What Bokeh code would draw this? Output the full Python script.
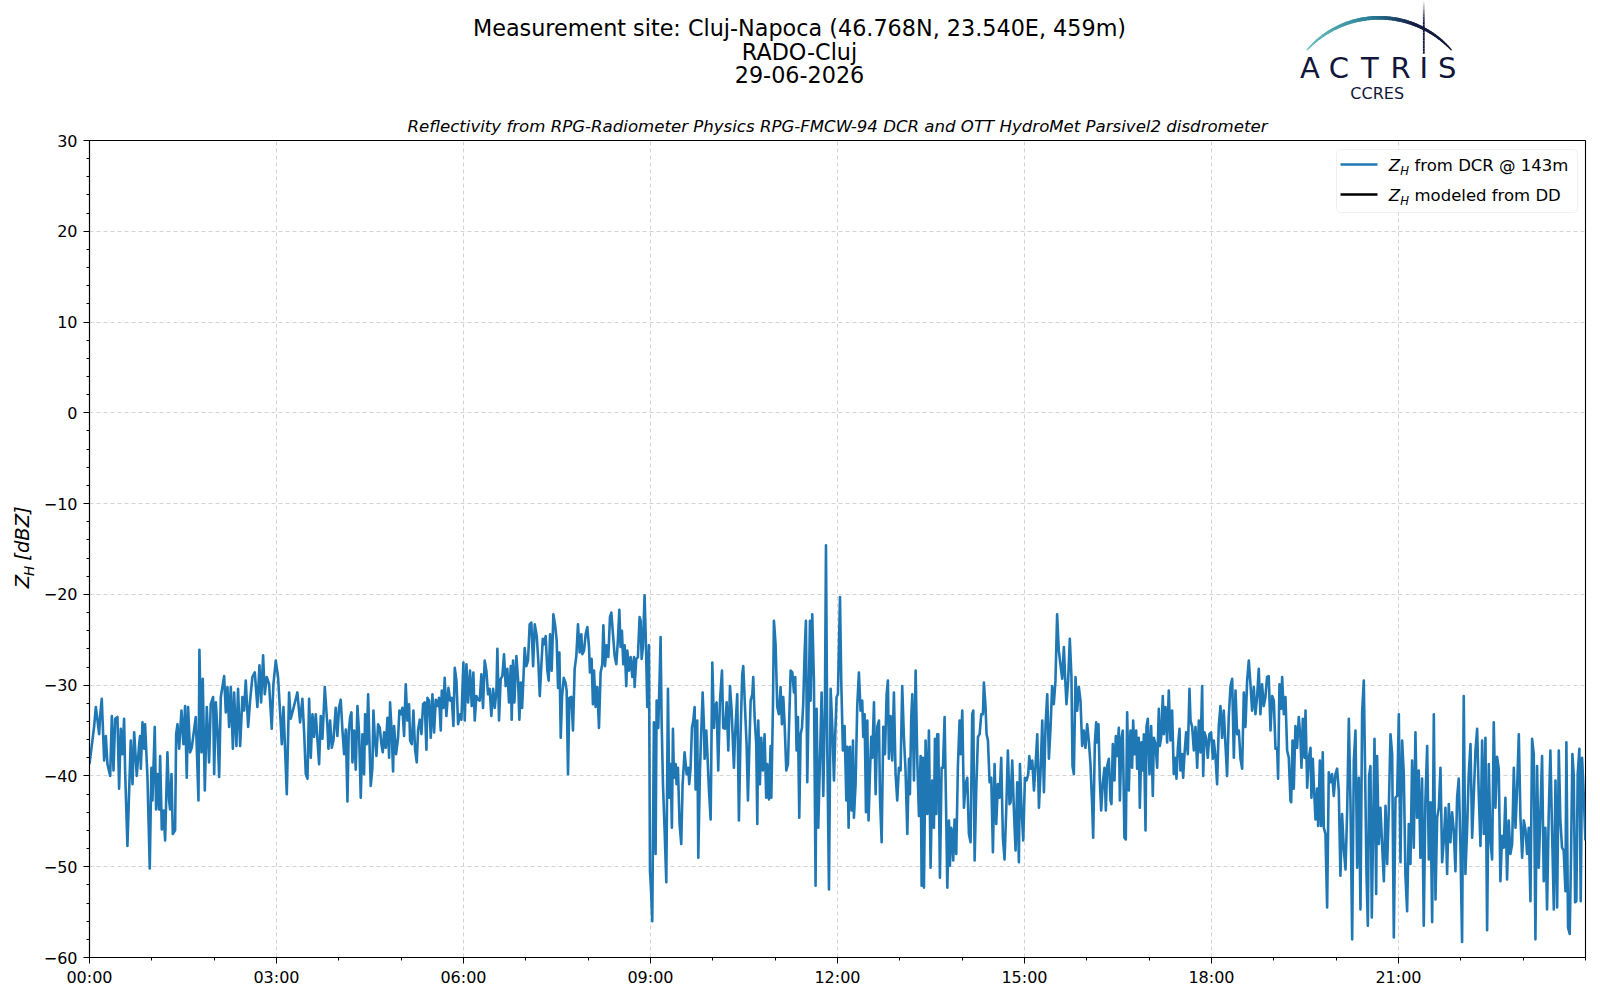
import numpy as np
from bokeh.plotting import figure
from bokeh.layouts import column, row
from bokeh.models import Range1d, FixedTicker, Label, BoxAnnotation
from bokeh.embed import file_html
from bokeh.resources import INLINE

# ---------------- data (minutes since 00:00 UTC, reflectivity in dBZ) ----------------
seg_00_03 = [(0.0,-38.7),(2.8,-36.1),(4.5,-34.5),(6.1,-32.4),(9.3,-35.4),(10.2,-33.4),(11.8,-31.5),(14.1,-38.3),(15.7,-35.6),(17.3,-38.7),(19.9,-40.0),(21.5,-33.4),(23.1,-39.4),(24.7,-33.7),(26.9,-33.5),(28.5,-41.4),(30.1,-34.8),(31.7,-37.6),(33.3,-33.7),(34.3,-39.5),(36.5,-47.7),(39.7,-36.1),(41.4,-40.9),(43.0,-35.2),(45.5,-40.0),(47.8,-36.5),(48.7,-35.6),(49.4,-39.2),(51.0,-34.1),(52.6,-37.0),(53.5,-34.3),(55.8,-40.2),(58.0,-50.2),(59.6,-39.1),(60.6,-42.7),(62.8,-34.6),(64.1,-43.7),(65.4,-39.8),(67.0,-43.7),(68.0,-37.8),(69.6,-45.9),(71.2,-43.8),(72.8,-47.1),(75.0,-37.4),(76.6,-42.7),(77.6,-43.7),(78.9,-39.8),(80.2,-46.4),(82.4,-46.0),(83.4,-35.4),(84.7,-34.3),(86.3,-37.0),(88.5,-32.8),(90.4,-36.5),(92.0,-32.3),(93.6,-40.2),(94.9,-32.4),(96.8,-37.4),(98.4,-36.9),(102.3,-33.5),(104.9,-42.7),(105.8,-26.1),(107.8,-37.4),(109.0,-29.3),(111.0,-41.6),(112.9,-32.4),(115.1,-38.5),(116.7,-32.1),(119.0,-31.3),(120.0,-39.8),(121.6,-31.9),(123.2,-35.0),(124.8,-40.1),(126.4,-31.3),(129.6,-29.0),(131.2,-33.0),(132.8,-30.2),(134.4,-34.6),(136.0,-30.2),(138.0,-37.0),(139.2,-30.8),(141.4,-36.7),(143.0,-30.4),(145.0,-36.7),(147.2,-31.3),(148.8,-32.8),(150.4,-29.5),(152.7,-34.6),(154.6,-31.7),(156.8,-29.1),(159.1,-28.6),(161.6,-32.4),(163.6,-27.8),(165.2,-31.9),(167.1,-26.7),(168.7,-31.0),(170.6,-29.1),(172.9,-29.9),(175.4,-34.8),(177.0,-29.9),(179.3,-27.3),(181.5,-29.1),(184.1,-34.3),(185.1,-36.5),(186.7,-32.4),(189.9,-42.0),(192.1,-30.8),(193.7,-33.7),(196.9,-32.3),(200.1,-30.8),(202.7,-34.1),(204.9,-31.5),(206.6,-35.2),(208.2,-39.8),(209.8,-40.3),(211.4,-31.5),(213.0,-38.0),(214.6,-33.2),(216.2,-35.7),(217.8,-33.2),(221.0,-38.7),(222.6,-33.4),(224.2,-35.9),(226.5,-30.2),(229.0,-34.5),(230.0,-37.0),(231.6,-33.9)]

seg_03_07 = [(233.2,-36.9),(234.8,-36.1),(237.0,-32.5),(238.6,-35.6),(240.2,-32.5),(241.8,-31.6),(243.5,-35.0),(245.1,-37.6),(246.7,-34.9),(248.3,-42.8),(249.5,-35.2),(250.8,-33.6),(252.1,-33.0),(253.1,-38.5),(254.7,-35.0),(256.3,-39.3),(257.9,-32.3),(259.5,-35.4),(261.1,-42.4),(262.7,-35.4),(264.3,-39.8),(265.3,-33.2),(266.9,-36.5),(268.2,-31.0),(269.4,-36.0),(270.7,-41.1),(272.3,-39.1),(273.3,-32.8),(274.6,-35.8),(276.2,-37.8),(277.8,-34.3),(279.4,-34.7),(281.0,-36.5),(282.3,-37.4),(283.6,-35.2),(285.2,-36.9),(286.8,-33.6),(288.4,-38.0),(289.3,-31.9),(290.9,-35.2),(292.2,-39.5),(293.2,-34.5),(295.1,-37.6),(297.0,-35.8),(298.3,-32.8),(299.6,-33.2),(301.2,-32.5),(302.8,-35.6),(304.4,-29.9),(306.0,-33.9),(307.6,-32.1),(308.6,-36.1),(310.2,-36.5),(311.8,-32.8),(313.4,-37.1),(315.0,-38.5),(316.3,-34.9),(317.9,-33.8),(319.5,-35.4),(321.1,-32.1),(322.7,-31.9),(324.3,-37.1),(325.3,-31.4),(326.9,-31.7),(328.5,-35.8),(330.1,-31.0),(331.7,-35.2),(333.3,-31.6),(334.9,-32.3),(336.5,-31.4),(338.1,-35.0),(339.1,-30.6),(340.7,-32.5),(341.9,-29.2),(343.5,-33.4),(345.5,-30.3),(347.1,-31.7),(348.7,-31.4),(350.3,-34.5),(351.6,-28.1),(353.2,-29.5),(354.8,-34.3),(356.7,-33.2),(358.0,-33.8),(359.9,-27.5),(361.2,-33.9),(362.8,-27.7),(364.4,-31.9),(366.3,-28.4),(367.9,-32.3),(369.5,-28.6),(370.8,-33.9),(372.4,-31.2),(374.0,-31.6),(375.6,-31.7),(377.2,-28.8),(378.8,-32.5),(380.4,-27.3),(382.0,-28.4),(383.6,-31.0),(385.2,-30.4),(386.8,-33.4),(388.5,-30.4),(390.1,-32.5),(391.7,-30.6),(392.6,-26.0),(394.2,-33.9),(395.8,-29.3),(397.4,-29.0),(399.0,-26.6),(400.6,-30.1),(402.2,-28.2),(403.8,-31.9),(405.5,-27.9),(406.4,-33.8),(407.7,-27.3),(409.0,-31.9),(410.9,-26.8),(412.5,-29.3),(413.8,-33.8),(415.1,-29.7),(416.4,-32.5),(417.6,-29.5),(418.9,-25.9),(420.5,-27.9),(422.1,-27.3),(423.7,-23.3),(425.3,-23.1),(427.0,-27.9),(428.6,-23.3),(430.5,-24.6),(432.1,-27.5),(433.4,-31.2),(435.0,-27.7),(436.3,-24.9),(437.5,-25.5),(439.1,-24.6),(440.7,-28.4),(442.0,-29.5),(443.3,-24.4),(444.9,-28.4),(446.5,-22.2),(448.1,-23.3),(449.7,-25.1),(451.0,-30.3),(452.3,-26.4),(453.6,-35.8),(454.9,-31.2),(456.5,-29.2),(458.1,-29.7),(459.3,-30.6),(460.6,-39.8),(461.9,-31.4)]

seg_07_11 = [(463.8,-31.3),(465.4,-35.0),(467.0,-28.2),(468.6,-26.8),(470.2,-23.3),(471.8,-26.4),(473.4,-24.4),(474.4,-26.6),(476.0,-26.2),(477.6,-24.4),(479.2,-23.6),(480.8,-25.8),(481.7,-28.6),(483.3,-27.1),(484.6,-32.1),(485.6,-28.4),(487.2,-32.4),(488.8,-30.2),(490.4,-34.7),(492.0,-28.6),(493.6,-27.7),(494.6,-23.4),(496.2,-27.9),(497.8,-25.6),(499.4,-26.9),(501.0,-22.5),(502.3,-22.0),(503.9,-24.4),(505.5,-26.8),(507.1,-27.7),(508.7,-24.9),(510.0,-21.7),(511.2,-25.8),(512.5,-24.0),(513.8,-27.7),(515.1,-25.6),(516.7,-30.1),(517.7,-26.2),(519.3,-28.4),(520.9,-26.9),(522.5,-29.1),(524.1,-26.9),(524.7,-30.2),(526.3,-27.1),(527.9,-26.9),(529.5,-22.5),(530.5,-22.9),(531.5,-27.1),(532.7,-25.8),(534.3,-20.1),(535.6,-25.5),(536.9,-32.4),(538.5,-25.6),(539.5,-50.5),(540.4,-52.3),(541.7,-56.0),(543.3,-34.1),(544.9,-48.6),(545.9,-31.7),(547.5,-34.7),(548.8,-29.1),(549.7,-24.7),(550.7,-33.9),(552.0,-40.9),(553.6,-46.0),(555.2,-51.7),(556.8,-30.4),(558.1,-42.4),(559.4,-38.7),(560.6,-45.7),(561.6,-34.8),(562.6,-40.2),(564.2,-38.7),(565.1,-40.9),(566.4,-39.1),(568.0,-45.3),(569.6,-47.5),(570.9,-40.9),(572.8,-37.4),(574.8,-39.8),(576.4,-39.1),(577.3,-40.9),(578.6,-39.1),(579.9,-34.7),(581.2,-33.9),(582.5,-32.4),(583.4,-41.5),(585.0,-33.9),(586.0,-49.0),(587.6,-39.4),(588.9,-35.0),(590.2,-30.8),(591.4,-34.3),(592.1,-38.1),(593.7,-35.0),(594.7,-37.4),(596.3,-41.6),(597.9,-44.8),(599.5,-27.5),(601.1,-34.7),(602.0,-32.4),(603.6,-31.9),(605.2,-39.4),(606.8,-31.9),(608.8,-28.4),(610.0,-34.7),(611.7,-34.8),(613.3,-31.9),(614.9,-37.2),(616.5,-30.1),(618.1,-32.8),(620.3,-39.1),(621.3,-35.8),(623.5,-31.0),(625.1,-44.9),(626.7,-35.4),(628.3,-28.8),(629.3,-27.9),(631.5,-33.9),(632.5,-36.5),(633.8,-42.7),(635.4,-35.8),(636.4,-31.7),(638.0,-31.0),(638.9,-29.1),(640.2,-33.5),(641.8,-36.5),(642.8,-45.3),(643.7,-33.9),(645.3,-40.9),(646.6,-35.8),(648.2,-39.4),(649.8,-35.4),(651.4,-42.4),(652.4,-38.7),(654.0,-42.6),(655.6,-36.7),(656.3,-42.4),(657.9,-32.1),(658.8,-22.9),(660.4,-25.5),(662.0,-32.4),(663.6,-33.2),(665.2,-30.2),(666.5,-34.3),(667.8,-31.3),(669.1,-34.3),(670.7,-39.4),(672.3,-38.7),(673.6,-33.5),(674.9,-28.4),(676.5,-28.6),(678.1,-30.8),(679.3,-29.1),(680.6,-37.2),(681.9,-33.5),(683.2,-44.6),(684.5,-35.4),(685.8,-34.7),(687.0,-32.1),(688.3,-26.6),(689.6,-22.9),(690.9,-40.7),(692.2,-32.1),(693.5,-22.9)]

seg_11_15 = [(694.1,-31.7),(695.7,-22.2),(697.3,-29.5),(698.9,-52.1),(699.9,-32.6),(701.5,-45.7),(703.1,-38.3),(704.7,-30.8),(706.3,-42.2),(707.9,-32.3),(708.9,-14.6),(710.2,-37.2),(711.8,-52.5),(713.4,-30.4),(715.0,-34.6),(716.6,-40.5),(717.9,-35.2),(719.1,-31.3),(720.4,-31.0),(722.4,-20.3),(723.6,-29.5),(725.2,-37.2),(726.8,-34.5),(728.5,-42.7),(729.4,-36.8),(730.7,-45.7),(732.0,-36.8),(733.6,-43.8),(734.9,-36.1),(735.8,-44.6),(737.4,-40.9),(739.0,-32.3),(740.6,-28.6),(742.2,-32.8),(743.8,-31.7),(744.8,-35.7),(746.1,-33.2),(747.4,-44.0),(748.7,-33.9),(749.9,-44.9),(751.2,-39.8),(752.5,-35.7),(753.5,-38.0),(755.1,-31.9),(756.7,-42.0),(758.3,-34.6),(759.9,-33.9),(760.9,-42.4),(762.5,-47.3),(764.1,-34.6),(765.7,-37.6),(767.3,-31.0),(768.5,-29.5),(769.5,-38.1),(771.1,-33.4),(772.7,-38.3),(774.3,-30.8),(775.9,-39.8),(777.5,-42.7),(779.1,-39.1),(780.7,-39.4),(782.3,-30.1),(783.9,-35.7),(785.5,-39.4),(787.2,-46.4),(788.8,-38.1),(789.7,-42.0),(791.0,-33.5),(792.0,-31.0),(793.6,-40.5),(795.2,-28.4),(796.8,-38.3),(798.4,-44.4),(800.0,-37.8),(801.0,-52.1),(802.2,-38.0),(803.2,-52.3),(804.8,-36.1),(806.4,-44.2),(808.0,-35.0),(809.6,-50.1),(811.2,-40.5),(812.8,-45.7),(813.8,-35.9),(815.1,-44.2),(816.0,-35.4),(817.0,-35.4),(818.6,-51.2),(820.2,-39.1),(821.5,-39.1),(823.1,-33.5),(824.7,-44.9),(825.7,-52.3),(827.3,-44.9),(828.2,-49.9),(829.5,-45.7),(830.5,-46.4),(831.4,-49.3),(832.7,-44.8),(834.3,-48.6),(835.9,-38.9),(837.5,-33.9),(838.5,-37.6),(840.1,-32.8),(841.7,-43.5),(843.3,-40.9),(844.9,-40.2),(846.5,-46.4),(848.1,-47.3),(849.7,-33.2),(850.7,-32.8),(852.0,-49.3),(853.6,-41.3),(855.2,-35.7),(856.8,-35.4),(858.4,-33.2),(860.0,-33.2),(860.9,-29.7),(862.5,-32.4),(863.5,-35.4),(864.8,-36.1),(866.4,-40.7),(868.0,-40.2),(869.6,-48.4),(871.2,-38.7),(872.8,-45.3),(874.4,-40.9),(876.0,-42.4),(877.6,-38.0),(879.2,-46.8),(880.8,-49.2),(882.4,-43.8),(884.0,-37.2),(885.6,-43.1),(886.6,-42.9),(888.2,-38.3),(889.8,-43.8),(891.4,-48.2),(893.0,-40.7),(894.6,-49.5),(895.6,-38.7),(897.2,-43.8),(898.8,-47.1),(900.4,-40.2),(902.0,-40.5),(903.6,-39.8),(904.6,-37.8),(905.9,-39.2),(907.5,-38.3),(909.1,-41.6),(910.7,-38.7),(912.3,-35.4),(913.9,-43.5),(915.5,-39.4),(917.1,-33.9),(918.7,-41.8),(920.3,-34.3),(921.9,-31.0),(923.5,-38.1),(925.1,-34.6)]

seg_15_19 = [(926.6,-30.1),(928.2,-32.1),(929.8,-29.5),(931.4,-22.2),(933.0,-26.2),(934.6,-27.7),(936.3,-29.3),(937.9,-25.8),(939.1,-29.1),(940.4,-32.1),(942.0,-29.5),(943.6,-24.9),(945.2,-29.1),(946.2,-38.9),(947.5,-39.8),(949.1,-29.1),(950.7,-32.8),(952.3,-30.2),(953.9,-31.7),(955.5,-36.7),(957.1,-35.0),(958.7,-36.9),(960.3,-34.3),(961.9,-36.1),(963.5,-38.7),(965.1,-43.1),(966.1,-46.8),(967.7,-36.5),(969.0,-34.1),(969.9,-36.3),(971.2,-34.3),(972.5,-40.5),(973.8,-43.8),(975.4,-40.7),(977.0,-39.1),(978.3,-43.8),(979.6,-38.9),(981.2,-38.1),(982.8,-42.7),(983.7,-43.1),(985.0,-36.5),(986.6,-40.5),(987.9,-35.6),(989.2,-37.8),(990.8,-34.7),(991.8,-42.7),(993.4,-35.8),(994.6,-35.0),(996.2,-46.8),(997.5,-47.0),(998.8,-33.0),(1000.4,-41.6),(1002.0,-35.0),(1003.6,-39.1),(1004.6,-33.9),(1005.9,-37.6),(1007.5,-35.0),(1008.4,-39.2),(1010.0,-35.8),(1011.0,-43.5),(1012.6,-36.3),(1013.9,-39.4),(1014.9,-35.4),(1016.5,-46.0),(1017.4,-34.6),(1018.7,-33.7),(1020.3,-39.8),(1021.9,-34.5),(1023.5,-42.2),(1024.5,-35.8),(1026.1,-36.5),(1027.7,-39.1),(1029.3,-32.6),(1030.2,-36.7),(1031.5,-35.8),(1033.1,-31.2),(1034.1,-35.4),(1035.7,-32.4),(1037.3,-36.3),(1038.9,-30.6),(1040.5,-36.1),(1042.1,-32.8),(1043.7,-39.8),(1045.3,-38.0),(1046.3,-40.3),(1047.6,-37.0),(1049.2,-34.8),(1050.1,-39.4),(1051.7,-37.6),(1052.7,-40.2),(1054.0,-37.6),(1055.6,-35.2),(1057.2,-37.6),(1058.8,-30.4),(1059.8,-33.9),(1061.4,-34.6),(1063.0,-37.2),(1064.6,-34.6),(1066.2,-39.1),(1067.8,-33.9),(1069.4,-37.4),(1071.0,-30.1),(1072.0,-40.0),(1073.2,-35.2),(1074.8,-35.8),(1076.4,-38.0),(1078.0,-35.4),(1079.6,-35.2),(1081.3,-38.1),(1082.2,-36.1),(1083.8,-37.8),(1085.4,-40.9),(1087.0,-34.5),(1088.6,-32.3),(1090.2,-35.8),(1091.8,-32.8),(1093.4,-36.5),(1095.0,-40.0),(1096.6,-33.5),(1098.3,-30.1),(1099.9,-29.3),(1101.5,-38.0),(1103.1,-30.6),(1104.7,-35.4),(1106.3,-35.0),(1107.9,-38.1),(1109.5,-39.2),(1111.1,-30.8),(1112.7,-34.6),(1114.3,-29.5),(1115.9,-27.3),(1117.5,-29.9),(1119.1,-32.8),(1120.7,-30.2),(1122.3,-33.2),(1123.9,-31.3),(1125.5,-28.2),(1127.1,-33.2),(1128.7,-29.9),(1130.3,-32.3),(1131.9,-31.3),(1133.5,-29.1),(1135.1,-29.0),(1136.8,-35.0),(1138.4,-31.2),(1140.0,-31.7),(1141.6,-37.0),(1143.2,-36.9),(1144.1,-40.3),(1145.4,-29.9),(1147.0,-32.6),(1148.0,-29.1),(1149.6,-33.2),(1151.2,-31.3),(1152.8,-37.2),(1154.4,-38.0),(1156.0,-42.7)]

seg_19_24 = [(1156.7,-42.9),(1158.0,-36.1),(1159.2,-41.4),(1160.8,-34.5),(1162.4,-36.9),(1164.0,-33.5),(1165.6,-35.8),(1166.6,-39.1),(1167.9,-33.7),(1169.5,-38.0),(1170.5,-32.8),(1172.1,-41.3),(1173.7,-38.0),(1175.3,-36.9),(1176.2,-42.4),(1177.5,-38.1),(1178.5,-40.9),(1180.1,-44.8),(1181.7,-41.4),(1182.7,-45.5),(1184.3,-38.3),(1185.5,-45.5),(1187.1,-37.4),(1188.1,-45.7),(1189.7,-46.4),(1191.3,-54.5),(1192.9,-39.6),(1194.5,-40.7),(1196.1,-39.8),(1197.7,-42.2),(1199.3,-39.8),(1200.9,-39.2),(1202.5,-41.6),(1204.1,-51.0),(1205.7,-44.2),(1207.4,-48.2),(1209.0,-50.3),(1210.6,-43.8),(1212.2,-33.7),(1213.8,-43.1),(1215.4,-58.0),(1217.0,-38.3),(1218.6,-35.0),(1220.2,-50.1),(1221.8,-40.2),(1223.4,-54.7),(1225.0,-33.0),(1226.6,-29.5),(1228.2,-42.4),(1229.2,-50.8),(1230.5,-56.5),(1231.7,-40.0),(1233.0,-38.9),(1234.3,-55.6),(1235.6,-45.7),(1236.9,-35.9),(1238.5,-53.0),(1239.4,-37.8),(1241.0,-47.5),(1242.6,-43.5),(1244.2,-47.5),(1245.9,-51.6),(1247.5,-43.3),(1249.1,-49.7),(1250.7,-43.5),(1252.3,-35.4),(1253.9,-37.6),(1255.5,-57.8),(1257.1,-42.4),(1258.7,-42.2),(1260.3,-33.2),(1261.9,-49.5),(1263.5,-36.1),(1265.1,-39.8),(1266.7,-51.0),(1268.3,-54.9),(1269.9,-45.3),(1271.5,-49.7),(1273.1,-38.3),(1274.7,-47.9),(1276.3,-35.2),(1277.9,-44.6),(1279.5,-39.4),(1281.1,-49.0),(1282.7,-40.3),(1284.3,-56.5),(1285.9,-42.7),(1287.6,-36.7),(1289.2,-49.2),(1290.8,-42.9),(1292.4,-56.1),(1294.0,-33.2),(1295.6,-53.6),(1297.2,-44.6),(1298.8,-43.5),(1300.4,-39.1),(1302.0,-49.5),(1303.6,-47.1),(1305.2,-43.5),(1306.8,-50.8),(1308.4,-43.1),(1310.0,-47.3),(1311.6,-44.0),(1313.2,-46.0),(1314.8,-50.5),(1316.4,-42.4),(1318.0,-40.3),(1319.6,-47.7),(1321.2,-58.3),(1322.8,-31.2),(1324.4,-50.8),(1326.0,-46.0),(1327.6,-39.8),(1329.3,-36.5),(1330.9,-46.8),(1332.5,-42.0),(1334.1,-37.2),(1335.7,-34.8),(1337.3,-42.2),(1338.9,-47.7),(1340.5,-36.1),(1342.1,-46.4),(1343.7,-35.8),(1345.3,-57.0),(1346.9,-38.7),(1348.5,-47.1),(1350.1,-49.2),(1351.7,-34.1),(1353.3,-43.5),(1354.9,-37.9),(1356.5,-39.2),(1358.1,-51.6),(1359.7,-46.6),(1361.3,-47.9),(1362.9,-42.4),(1364.5,-51.4),(1366.1,-44.9),(1367.7,-48.6),(1369.4,-47.5),(1371.0,-39.1),(1372.6,-45.7),(1374.2,-41.3),(1375.8,-35.4),(1377.4,-44.6),(1379.0,-49.0),(1380.6,-44.9),(1382.2,-45.9),(1383.8,-48.6),(1385.4,-45.7),(1387.0,-53.8),(1388.6,-35.9),(1390.2,-37.6),(1391.8,-58.0),(1393.4,-38.9),(1395.0,-50.1),(1396.6,-44.0),(1398.2,-37.8),(1399.8,-51.6),(1401.4,-45.7),(1403.0,-54.7),(1404.6,-44.2),(1406.2,-37.2),(1407.8,-46.0),(1409.5,-54.7),(1411.1,-40.5),(1412.7,-54.5),(1414.3,-37.2),(1415.8,-44.9),(1417.4,-47.9),(1419.0,-48.2),(1420.7,-52.7),(1421.6,-36.3),(1423.2,-56.7),(1424.8,-57.4),(1426.1,-48.6),(1427.4,-37.6),(1428.7,-40.0),(1430.0,-53.9),(1431.2,-53.8),(1432.5,-39.8),(1434.1,-37.0),(1435.4,-53.8),(1436.7,-38.0),(1438.3,-42.0),(1439.9,-47.1)]

# the disdrometer-modelled series has no values on this day
dd_minutes = []
dd_zh = []

x_tick_minutes = [0, 180, 360, 540, 720, 900, 1080, 1260]
x_tick_labels = ["00:00", "03:00", "06:00", "09:00", "12:00", "15:00", "18:00", "21:00"]
y_ticks = [-60, -50, -40, -30, -20, -10, 0, 10, 20, 30]
y_tick_labels = ["\u221260", "\u221250", "\u221240", "\u221230", "\u221220", "\u221210", "0", "10", "20", "30"]

title_lines = ["Measurement site: Cluj-Napoca (46.768N, 23.540E, 459m)", "RADO-Cluj", "29-06-2026"]
subtitle = "Reflectivity from RPG-Radiometer Physics RPG-FMCW-94 DCR and OTT HydroMet Parsivel2 disdrometer"
legend_rest = ["from DCR @ 143m", "modeled from DD"]

segments = [seg_00_03, seg_03_07, seg_07_11, seg_11_15, seg_15_19, seg_19_24]
dcr_minutes = [t for seg in segments for t, _ in seg]
dcr_zh = [v for seg in segments for _, v in seg]

FONT = "DejaVu Sans"
W = 1592
HEADER_H = 106
MAIN_H = 883
YLAB_W = 40
NAVY = "#12163a"
BF = 0.36   # Label "alphabetic" anchor sits this many em above the drawn baseline


def bare(fig):
    fig.background_fill_color = "white"
    fig.border_fill_color = "white"
    return fig


# ---------------- header (titles + logo) ----------------
header = bare(figure(width=W, height=HEADER_H, x_range=Range1d(0, W), y_range=Range1d(HEADER_H, 0),
                     output_backend="svg", toolbar_location=None, min_border=0,
                     x_axis_type=None, y_axis_type=None, outline_line_color=None))

TF = 22.3
for i, line in enumerate(title_lines):
    header.add_layout(Label(x=799, y=36 + 23.1 * i - BF * TF, text=line, text_font=FONT,
                            text_font_size=f"{TF}px", text_align="center", text_baseline="alphabetic",
                            text_color="black"))


def mix(c0, c1, t):
    return "#%02x%02x%02x" % tuple(int(round(a + (b - a) * t)) for a, b in zip(c0, c1))


# logo arc (decoration)
n = 60
theta = np.linspace(np.radians(137.9), np.radians(42.1), n + 1)
ax = 1378.7 + 97 * np.cos(theta)
ay = 114.3 - 97 * np.sin(theta)
cols, widths = [], []
for k in range(n):
    t = (k + 0.5) / n
    if t < 0.45:
        c = mix((112, 198, 192), (42, 128, 152), t / 0.45)
    elif t < 0.72:
        c = mix((42, 128, 152), (22, 30, 70), (t - 0.45) / 0.27)
    else:
        c = mix((22, 30, 70), (16, 20, 54), (t - 0.72) / 0.28)
    cols.append(c)
    widths.append(1.2 + 2.6 * np.sin(np.pi * t) ** 0.7)
header.segment(x0=ax[:-1], y0=ay[:-1], x1=ax[1:], y1=ay[1:], line_color=cols, line_width=widths,
               line_cap="round")

vy = np.linspace(0, 53.3, 21)
vcols = [mix((255, 255, 255), (18, 22, 58), min(1.0, (k + 0.5) / 8)) for k in range(20)]
header.segment(x0=[1423.3] * 20, y0=vy[:-1], x1=[1423.3] * 20, y1=vy[1:], line_color=vcols, line_width=1.8)

LF = 29
for letter, lx in zip("ACTRIS", [1309.3, 1338.3, 1369.3, 1400.0, 1423.3, 1446.7]):
    header.add_layout(Label(x=lx, y=78.3 - BF * LF, text=letter, text_font=FONT, text_font_size=f"{LF}px",
                            text_align="center", text_baseline="alphabetic", text_color=NAVY))
header.add_layout(Label(x=1376.7, y=98.3 - BF * 16, text="CCRES", text_font=FONT, text_font_size="16px",
                        text_align="center", text_baseline="alphabetic", text_color=NAVY))

# ---------------- y-axis label panel ----------------
ylab = bare(figure(width=YLAB_W, height=MAIN_H, x_range=Range1d(0, YLAB_W), y_range=Range1d(0, MAIN_H),
                   output_backend="svg", toolbar_location=None, min_border=0,
                   x_axis_type=None, y_axis_type=None, outline_line_color=None))
YL = 19.5
YS = YL * 0.7
zy = MAIN_H + HEADER_H - 590   # window y 590 -> local
z_w = 0.685 * YL
h_w = 0.752 * YS
ylab.add_layout(Label(x=29 - BF * YL, y=zy, text="Z", angle=90, angle_units="deg", text_font=FONT,
                      text_font_size=f"{YL}px", text_font_style="italic", text_align="left",
                      text_baseline="alphabetic", text_color="black"))
ylab.add_layout(Label(x=33 - BF * YS, y=zy + z_w, text="H", angle=90, angle_units="deg", text_font=FONT,
                      text_font_size=f"{YS:.1f}px", text_font_style="italic", text_align="left",
                      text_baseline="alphabetic", text_color="black"))
ylab.add_layout(Label(x=29 - BF * YL, y=zy + z_w + h_w + 0.318 * YL, text="[dBZ]", angle=90,
                      angle_units="deg", text_font=FONT, text_font_size=f"{YL}px", text_font_style="italic",
                      text_align="left", text_baseline="alphabetic", text_color="black"))

# ---------------- main plot ----------------
p = figure(width=W - YLAB_W, height=MAIN_H, x_range=Range1d(0, 1440), y_range=Range1d(-60, 30),
           output_backend="svg", toolbar_location=None,
           min_border_top=34, min_border_left=49, min_border_right=7, min_border_bottom=32)
bare(p)
p.outline_line_color = "black"
p.outline_line_width = 1.1

p.title.text = subtitle
p.title.align = "center"
p.title.text_font = FONT
p.title.text_font_size = "16.6px"
p.title.text_font_style = "italic"
p.title.text_color = "black"
p.title.standoff = 9

p.line(dcr_minutes, dcr_zh, line_color="#1f77b4", line_width=2.6, line_join="round")
p.line(dd_minutes, dd_zh, line_color="black", line_width=2.6)

p.xaxis.ticker = FixedTicker(ticks=x_tick_minutes, minor_ticks=list(range(0, 1441, 60)))
p.xaxis.major_label_overrides = dict(zip(x_tick_minutes, x_tick_labels))
p.yaxis.ticker = FixedTicker(ticks=y_ticks, minor_ticks=list(range(-60, 31, 2)))
p.yaxis.major_label_overrides = dict(zip(y_ticks, y_tick_labels))

for axis in (p.xaxis, p.yaxis):
    axis.axis_line_color = "black"
    axis.axis_line_width = 1.1
    axis.major_tick_line_color = "black"
    axis.minor_tick_line_color = "black"
    axis.major_tick_in = 0
    axis.major_tick_out = 6
    axis.minor_tick_in = 0
    axis.minor_tick_out = 3
    axis.major_label_text_font = FONT
    axis.major_label_text_font_size = "16px"
    axis.major_label_text_color = "black"
p.xaxis.major_label_standoff = 4
p.yaxis.major_label_standoff = 6

for g in (p.xgrid, p.ygrid):
    g.grid_line_color = "#d3d3d3"
    g.grid_line_dash = "4 3"
    g.grid_line_width = 1

# legend (custom, to allow the Z_H subscript); screen units are relative to the plot frame
p.add_layout(BoxAnnotation(left=1247, right=1488, bottom=745, top=808,
                           left_units="screen", right_units="screen", top_units="screen", bottom_units="screen",
                           fill_color="white", fill_alpha=0.85, line_color="#cccccc", line_width=1,
                           border_radius=4, level="annotation"))
LGF = 16.5
LGS = 11.6
for ycen, col, rest in zip([793, 763], ["#1f77b4", "black"], legend_rest):
    p.add_layout(BoxAnnotation(left=1251, right=1288, bottom=ycen - 1.2, top=ycen + 1.2,
                               left_units="screen", right_units="screen", top_units="screen",
                               bottom_units="screen", fill_color=col, fill_alpha=1.0, line_color=None,
                               level="annotation"))
    yb = ycen - 6.7          # wanted baseline of the entry text
    p.add_layout(Label(x=1299.3, y=yb + BF * LGF, x_units="screen", y_units="screen", text="Z",
                       text_font=FONT, text_font_size=f"{LGF}px", text_font_style="italic",
                       text_baseline="alphabetic", text_color="black"))
    p.add_layout(Label(x=1310.7, y=yb - 3.5 + BF * LGS, x_units="screen", y_units="screen", text="H",
                       text_font=FONT, text_font_size=f"{LGS}px", text_font_style="italic",
                       text_baseline="alphabetic", text_color="black"))
    p.add_layout(Label(x=1325.0, y=yb + BF * LGF, x_units="screen", y_units="screen", text=rest,
                       text_font=FONT, text_font_size=f"{LGF}px", text_baseline="alphabetic",
                       text_color="black"))

layout = column(header, row(ylab, p, spacing=0), spacing=0)
open("out.html", "w").write(file_html(layout, INLINE))
